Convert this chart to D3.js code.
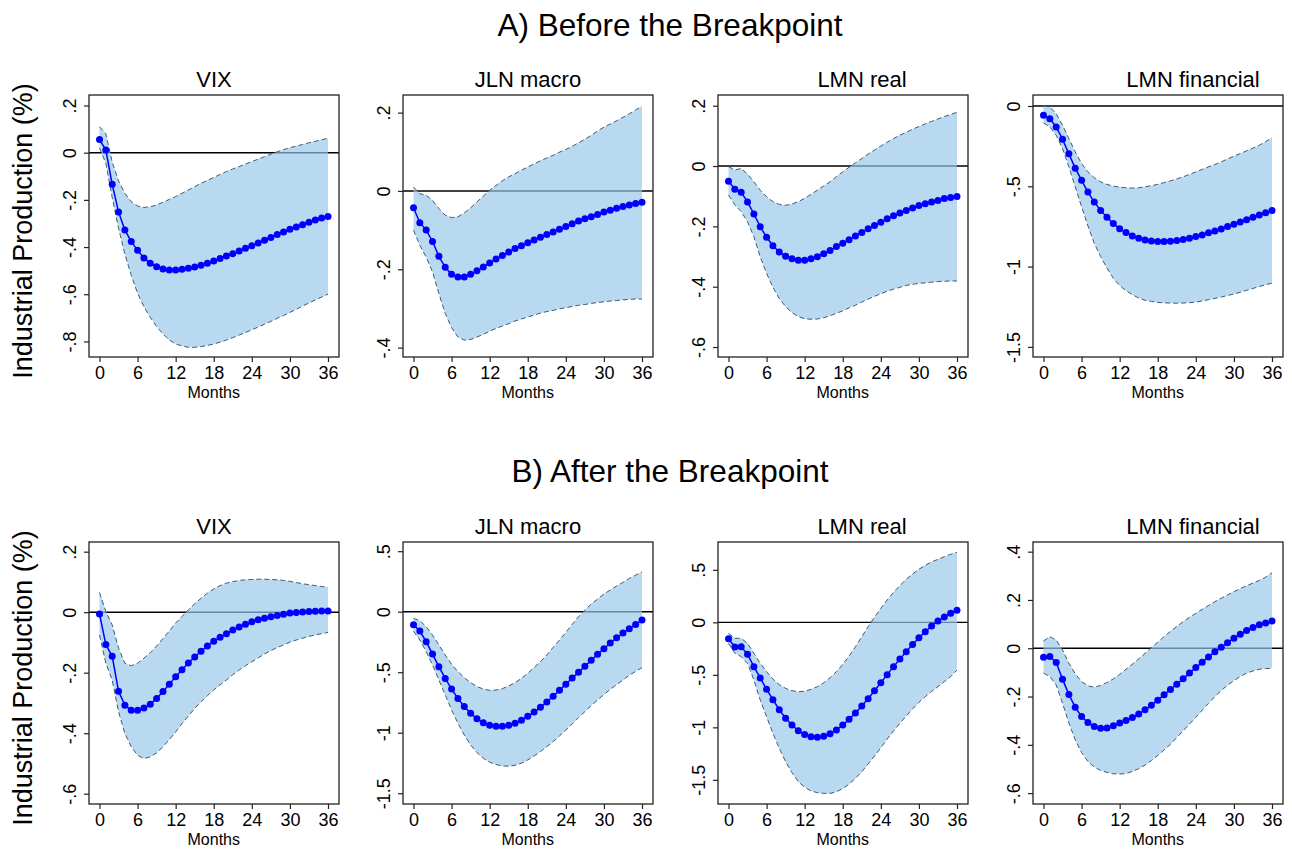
<!DOCTYPE html>
<html>
<head>
<meta charset="utf-8">
<script src="https://cdn.jsdelivr.net/npm/d3@7"></script>
<style>
  html, body { margin: 0; padding: 0; background: #ffffff; }
  svg { display: block; font-family: "Liberation Sans", Arial, sans-serif; }
</style>
</head>
<body>
<svg id="chart" width="1292" height="851"></svg>
<script>
// ---------------- DATA ----------------
const months = d3.range(0, 37);
const monthTicks = [0, 6, 12, 18, 24, 30, 36];
const rowTitles = ["A) Before the Breakpoint", "B) After the Breakpoint"];
const panelTitles = ["VIX", "JLN macro", "LMN real", "LMN financial"];
const yAxisTitle = "Industrial Production (%)";
const xAxisTitle = "Months";

// A) Before the breakpoint
const aVixIrf = [0.056,0.011,-0.134,-0.251,-0.328,-0.376,-0.414,-0.446,-0.469,-0.483,-0.493,-0.497,-0.497,-0.494,-0.490,-0.485,-0.477,-0.469,-0.459,-0.449,-0.438,-0.428,-0.417,-0.405,-0.394,-0.383,-0.371,-0.359,-0.347,-0.336,-0.325,-0.315,-0.305,-0.295,-0.285,-0.277,-0.270];
const aVixHi  = [0.11,0.08,-0.04,-0.12,-0.172,-0.208,-0.226,-0.232,-0.229,-0.222,-0.21,-0.198,-0.186,-0.172,-0.158,-0.144,-0.13,-0.117,-0.105,-0.092,-0.08,-0.069,-0.059,-0.048,-0.038,-0.027,-0.017,-0.006,0.004,0.013,0.021,0.028,0.035,0.042,0.048,0.055,0.061];
const aVixLo  = [0.02,-0.045,-0.19,-0.32,-0.43,-0.52,-0.596,-0.653,-0.698,-0.737,-0.768,-0.794,-0.811,-0.819,-0.825,-0.825,-0.822,-0.817,-0.811,-0.803,-0.794,-0.784,-0.773,-0.762,-0.751,-0.739,-0.727,-0.715,-0.702,-0.69,-0.677,-0.664,-0.65,-0.637,-0.624,-0.612,-0.6];

const aJlnIrf = [-0.043,-0.081,-0.100,-0.129,-0.167,-0.195,-0.213,-0.220,-0.220,-0.213,-0.204,-0.194,-0.184,-0.174,-0.165,-0.156,-0.147,-0.140,-0.132,-0.125,-0.118,-0.111,-0.105,-0.098,-0.091,-0.084,-0.077,-0.071,-0.066,-0.060,-0.054,-0.049,-0.044,-0.040,-0.036,-0.032,-0.029];
const aJlnHi  = [0.01,-0.007,-0.011,-0.024,-0.045,-0.062,-0.068,-0.066,-0.056,-0.043,-0.028,-0.013,0.002,0.014,0.026,0.036,0.044,0.053,0.061,0.069,0.077,0.084,0.091,0.099,0.106,0.114,0.123,0.132,0.142,0.153,0.163,0.171,0.179,0.188,0.197,0.207,0.216];
const aJlnLo  = [-0.1,-0.139,-0.169,-0.207,-0.262,-0.313,-0.349,-0.373,-0.381,-0.379,-0.373,-0.366,-0.358,-0.351,-0.345,-0.339,-0.332,-0.327,-0.322,-0.317,-0.312,-0.308,-0.305,-0.301,-0.298,-0.295,-0.292,-0.29,-0.287,-0.285,-0.283,-0.281,-0.28,-0.278,-0.277,-0.276,-0.276];

const aRealIrf = [-0.050,-0.077,-0.087,-0.119,-0.159,-0.201,-0.236,-0.264,-0.285,-0.299,-0.307,-0.312,-0.312,-0.307,-0.301,-0.291,-0.280,-0.267,-0.256,-0.244,-0.232,-0.220,-0.208,-0.197,-0.186,-0.175,-0.165,-0.156,-0.147,-0.139,-0.131,-0.125,-0.119,-0.114,-0.108,-0.104,-0.101];
const aRealHi  = [-0.002,-0.013,-0.008,-0.027,-0.052,-0.08,-0.102,-0.118,-0.127,-0.13,-0.126,-0.118,-0.107,-0.094,-0.08,-0.066,-0.052,-0.035,-0.019,-0.004,0.011,0.025,0.04,0.053,0.066,0.079,0.091,0.102,0.112,0.122,0.131,0.14,0.148,0.156,0.164,0.171,0.178];
const aRealLo  = [-0.096,-0.129,-0.151,-0.185,-0.234,-0.301,-0.356,-0.402,-0.439,-0.466,-0.486,-0.499,-0.506,-0.508,-0.507,-0.503,-0.496,-0.488,-0.48,-0.47,-0.461,-0.451,-0.441,-0.432,-0.423,-0.415,-0.408,-0.402,-0.396,-0.392,-0.389,-0.387,-0.385,-0.383,-0.382,-0.381,-0.381];

const aFinIrf = [-0.058,-0.079,-0.130,-0.207,-0.298,-0.387,-0.463,-0.536,-0.598,-0.650,-0.693,-0.732,-0.764,-0.788,-0.809,-0.824,-0.834,-0.840,-0.844,-0.844,-0.842,-0.838,-0.832,-0.824,-0.813,-0.803,-0.790,-0.778,-0.766,-0.751,-0.737,-0.722,-0.708,-0.693,-0.679,-0.664,-0.650];
const aFinHi  = [0,-0.006,-0.048,-0.12,-0.203,-0.286,-0.358,-0.41,-0.447,-0.472,-0.488,-0.499,-0.505,-0.509,-0.511,-0.509,-0.503,-0.496,-0.488,-0.477,-0.466,-0.454,-0.441,-0.426,-0.41,-0.395,-0.379,-0.364,-0.348,-0.33,-0.312,-0.296,-0.279,-0.262,-0.244,-0.222,-0.197];
const aFinLo  = [-0.106,-0.13,-0.182,-0.265,-0.379,-0.503,-0.627,-0.747,-0.855,-0.937,-1.01,-1.072,-1.118,-1.15,-1.175,-1.196,-1.21,-1.217,-1.223,-1.226,-1.227,-1.228,-1.227,-1.225,-1.221,-1.214,-1.206,-1.198,-1.19,-1.18,-1.171,-1.16,-1.148,-1.136,-1.124,-1.113,-1.103];

// B) After the breakpoint
const bVixIrf = [-0.006,-0.107,-0.146,-0.261,-0.308,-0.324,-0.324,-0.317,-0.304,-0.285,-0.262,-0.238,-0.213,-0.190,-0.168,-0.148,-0.129,-0.112,-0.096,-0.083,-0.071,-0.059,-0.049,-0.040,-0.032,-0.025,-0.020,-0.015,-0.011,-0.007,-0.003,-0.001,0.001,0.002,0.003,0.004,0.004];
const bVixHi  = [0.065,0.002,-0.042,-0.119,-0.169,-0.177,-0.169,-0.152,-0.134,-0.112,-0.087,-0.062,-0.036,-0.014,0.008,0.028,0.046,0.063,0.077,0.088,0.096,0.101,0.105,0.107,0.108,0.109,0.109,0.108,0.107,0.105,0.102,0.098,0.094,0.091,0.088,0.085,0.082];
const bVixLo  = [-0.075,-0.169,-0.224,-0.329,-0.401,-0.445,-0.473,-0.484,-0.478,-0.465,-0.445,-0.421,-0.396,-0.368,-0.343,-0.318,-0.296,-0.276,-0.257,-0.24,-0.224,-0.207,-0.191,-0.177,-0.164,-0.151,-0.138,-0.127,-0.117,-0.108,-0.099,-0.092,-0.086,-0.08,-0.075,-0.071,-0.067];

const bJlnIrf = [-0.107,-0.160,-0.248,-0.350,-0.454,-0.551,-0.639,-0.718,-0.784,-0.840,-0.884,-0.917,-0.939,-0.947,-0.947,-0.939,-0.922,-0.897,-0.864,-0.829,-0.790,-0.746,-0.699,-0.650,-0.600,-0.548,-0.501,-0.451,-0.402,-0.352,-0.306,-0.259,-0.215,-0.176,-0.140,-0.105,-0.069];
const bJlnHi  = [-0.055,-0.074,-0.124,-0.193,-0.275,-0.358,-0.435,-0.495,-0.545,-0.586,-0.619,-0.639,-0.65,-0.647,-0.636,-0.614,-0.586,-0.551,-0.509,-0.462,-0.413,-0.358,-0.295,-0.234,-0.171,-0.105,-0.041,0.014,0.063,0.105,0.146,0.179,0.212,0.242,0.275,0.303,0.328];
const bJlnLo  = [-0.16,-0.234,-0.33,-0.44,-0.564,-0.688,-0.812,-0.922,-1.018,-1.101,-1.164,-1.211,-1.244,-1.263,-1.274,-1.277,-1.269,-1.252,-1.225,-1.192,-1.156,-1.115,-1.074,-1.027,-0.977,-0.928,-0.875,-0.826,-0.776,-0.729,-0.685,-0.641,-0.603,-0.564,-0.526,-0.493,-0.462];

const bRealIrf = [-0.156,-0.235,-0.232,-0.305,-0.422,-0.530,-0.638,-0.737,-0.832,-0.914,-0.978,-1.032,-1.067,-1.089,-1.095,-1.086,-1.060,-1.025,-0.978,-0.924,-0.863,-0.797,-0.727,-0.651,-0.575,-0.498,-0.422,-0.349,-0.279,-0.210,-0.146,-0.089,-0.035,0.013,0.051,0.086,0.114];
const bRealHi  = [-0.105,-0.152,-0.152,-0.2,-0.295,-0.39,-0.47,-0.54,-0.594,-0.629,-0.651,-0.66,-0.657,-0.638,-0.613,-0.575,-0.527,-0.47,-0.4,-0.321,-0.232,-0.137,-0.041,0.048,0.133,0.213,0.286,0.349,0.41,0.46,0.505,0.543,0.575,0.6,0.625,0.648,0.667];
const bRealLo  = [-0.2,-0.295,-0.327,-0.39,-0.549,-0.74,-0.898,-1.057,-1.2,-1.327,-1.432,-1.517,-1.571,-1.606,-1.622,-1.629,-1.629,-1.613,-1.584,-1.54,-1.486,-1.422,-1.349,-1.273,-1.194,-1.111,-1.035,-0.962,-0.892,-0.825,-0.762,-0.708,-0.657,-0.613,-0.565,-0.517,-0.454];

const bFinIrf = [-0.037,-0.034,-0.059,-0.128,-0.192,-0.244,-0.283,-0.308,-0.324,-0.331,-0.330,-0.321,-0.310,-0.299,-0.287,-0.272,-0.255,-0.236,-0.215,-0.193,-0.171,-0.149,-0.126,-0.103,-0.080,-0.058,-0.036,-0.015,0.004,0.023,0.041,0.058,0.073,0.086,0.097,0.105,0.113];
const bFinHi  = [0.030,0.048,0.034,-0.007,-0.062,-0.106,-0.138,-0.156,-0.161,-0.154,-0.142,-0.127,-0.108,-0.087,-0.066,-0.044,-0.021,0.003,0.025,0.048,0.070,0.090,0.110,0.128,0.145,0.161,0.177,0.193,0.207,0.221,0.234,0.247,0.259,0.270,0.281,0.294,0.313];
const bFinLo  = [-0.103,-0.117,-0.152,-0.228,-0.310,-0.379,-0.432,-0.469,-0.492,-0.506,-0.514,-0.520,-0.521,-0.519,-0.510,-0.499,-0.484,-0.465,-0.444,-0.421,-0.398,-0.370,-0.342,-0.314,-0.286,-0.257,-0.228,-0.200,-0.175,-0.153,-0.134,-0.117,-0.103,-0.094,-0.087,-0.084,-0.084];

// y tick values and labels (Stata style)
const aVixTicks = [0.2, 0, -0.2, -0.4, -0.6, -0.8];
const aVixLabels = [".2", "0", "-.2", "-.4", "-.6", "-.8"];
const aJlnTicks = [0.2, 0, -0.2, -0.4];
const aJlnLabels = [".2", "0", "-.2", "-.4"];
const aRealTicks = [0.2, 0, -0.2, -0.4, -0.6];
const aRealLabels = [".2", "0", "-.2", "-.4", "-.6"];
const aFinTicks = [0, -0.5, -1, -1.5];
const aFinLabels = ["0", "-.5", "-1", "-1.5"];
const bVixTicks = [0.2, 0, -0.2, -0.4, -0.6];
const bVixLabels = [".2", "0", "-.2", "-.4", "-.6"];
const bJlnTicks = [0.5, 0, -0.5, -1, -1.5];
const bJlnLabels = [".5", "0", "-.5", "-1", "-1.5"];
const bRealTicks = [0.5, 0, -0.5, -1, -1.5];
const bRealLabels = [".5", "0", "-.5", "-1", "-1.5"];
const bFinTicks = [0.4, 0.2, 0, -0.2, -0.4, -0.6];
const bFinLabels = [".4", ".2", "0", "-.2", "-.4", "-.6"];

// ---------------- PANELS ----------------
const panels = [
  {row:0, col:0, irf:aVixIrf, hi:aVixHi, lo:aVixLo, ticks:aVixTicks, labels:aVixLabels, dom:[-0.866, 0.2445]},
  {row:0, col:1, irf:aJlnIrf, hi:aJlnHi, lo:aJlnLo, ticks:aJlnTicks, labels:aJlnLabels, dom:[-0.424, 0.245]},
  {row:0, col:2, irf:aRealIrf, hi:aRealHi, lo:aRealLo, ticks:aRealTicks, labels:aRealLabels, dom:[-0.633, 0.2355]},
  {row:0, col:3, irf:aFinIrf, hi:aFinHi, lo:aFinLo, ticks:aFinTicks, labels:aFinLabels, dom:[-1.563, 0.0685]},
  {row:1, col:0, irf:bVixIrf, hi:bVixHi, lo:bVixLo, ticks:bVixTicks, labels:bVixLabels, dom:[-0.634, 0.232]},
  {row:1, col:1, irf:bJlnIrf, hi:bJlnHi, lo:bJlnLo, ticks:bJlnTicks, labels:bJlnLabels, dom:[-1.589, 0.576]},
  {row:1, col:2, irf:bRealIrf, hi:bRealHi, lo:bRealLo, ticks:bRealTicks, labels:bRealLabels, dom:[-1.730, 0.765]},
  {row:1, col:3, irf:bFinIrf, hi:bFinHi, lo:bFinLo, ticks:bFinTicks, labels:bFinLabels, dom:[-0.645, 0.440]},
];

// ---------------- LAYOUT ----------------
const frameLeft = [89, 403, 718, 1033];
const titleCenter = [214, 528, 862, 1193];
const frameW = 250;
const frameTop = [95, 542];
const frameH = 262;
const rowTitleY = [36, 482];
const FILL = "rgb(150,199,233)";
const DASH = "#3d5a78";
const BLUE = "#0000ff";

const svg = d3.select("#chart");

rowTitles.forEach((t, r) => {
  svg.append("text").attr("x", 670).attr("y", rowTitleY[r])
    .attr("text-anchor", "middle").attr("font-size", 31.5).attr("fill", "#000").text(t);
  svg.append("text")
    .attr("transform", `translate(32,${frameTop[r] + frameH / 2 + 5}) rotate(-90)`)
    .attr("text-anchor", "middle").attr("font-size", 27).attr("fill", "#000").text(yAxisTitle);
});

panels.forEach(p => {
  const L = frameLeft[p.col], T = frameTop[p.row];
  const x = d3.scaleLinear().domain([0, 36]).range([L + 10.5, L + 239]);
  const y = d3.scaleLinear().domain(p.dom).range([T + frameH, T]);
  const g = svg.append("g");

  // panel title
  g.append("text").attr("x", titleCenter[p.col]).attr("y", T - 8)
    .attr("text-anchor", "middle").attr("font-size", 22).attr("fill", "#000")
    .text(panelTitles[p.col]);

  // zero line
  g.append("line").attr("x1", L).attr("x2", L + frameW)
    .attr("y1", y(0)).attr("y2", y(0))
    .attr("stroke", "#000").attr("stroke-width", 1.4);

  // confidence band
  const area = d3.area().x(d => x(d)).y0(d => y(p.lo[d])).y1(d => y(p.hi[d]));
  g.append("path").datum(months).attr("d", area)
    .attr("fill", FILL).attr("fill-opacity", 0.68).attr("stroke", "none");
  const edge = arr => d3.line().x(d => x(d)).y(d => y(arr[d]));
  [p.hi, p.lo].forEach(arr => {
    g.append("path").datum(months).attr("d", edge(arr))
      .attr("fill", "none").attr("stroke", DASH).attr("stroke-width", 1)
      .attr("stroke-dasharray", "5,3");
  });

  // IRF line and markers
  g.append("path").datum(months)
    .attr("d", d3.line().x(d => x(d)).y(d => y(p.irf[d])))
    .attr("fill", "none").attr("stroke", BLUE).attr("stroke-width", 1.5);
  g.selectAll("circle.m").data(months).enter().append("circle")
    .attr("cx", d => x(d)).attr("cy", d => y(p.irf[d])).attr("r", 3.5)
    .attr("fill", BLUE);

  // frame
  g.append("rect").attr("x", L).attr("y", T).attr("width", frameW).attr("height", frameH)
    .attr("fill", "none").attr("stroke", "#222").attr("stroke-width", 1.3);

  // x axis
  const xa = g.append("g").attr("transform", `translate(0,${T + frameH})`)
    .call(d3.axisBottom(x).tickValues(monthTicks).tickSize(5).tickPadding(4).tickFormat(d3.format("d")));
  xa.select(".domain").remove();
  xa.selectAll("line").attr("stroke", "#222").attr("stroke-width", 1.2);
  xa.selectAll("text").attr("font-size", 18).attr("fill", "#000")
    .attr("font-family", "Liberation Sans, Arial, sans-serif");

  g.append("text").attr("x", x(18)).attr("y", T + frameH + 41)
    .attr("text-anchor", "middle").attr("font-size", 16).attr("fill", "#000").text(xAxisTitle);

  // y axis
  const ya = g.append("g").attr("transform", `translate(${L},0)`)
    .call(d3.axisLeft(y).tickValues(p.ticks).tickSize(5)
      .tickFormat((d, i) => p.labels[i]));
  ya.select(".domain").remove();
  ya.selectAll("line").attr("stroke", "#222").attr("stroke-width", 1.2);
  ya.selectAll("text")
    .attr("x", 0).attr("y", -13.5).attr("dy", 0)
    .attr("transform", "rotate(-90)")
    .attr("text-anchor", "middle")
    .attr("font-size", 18).attr("fill", "#000")
    .attr("font-family", "Liberation Sans, Arial, sans-serif");
});
</script>
</body>
</html>
